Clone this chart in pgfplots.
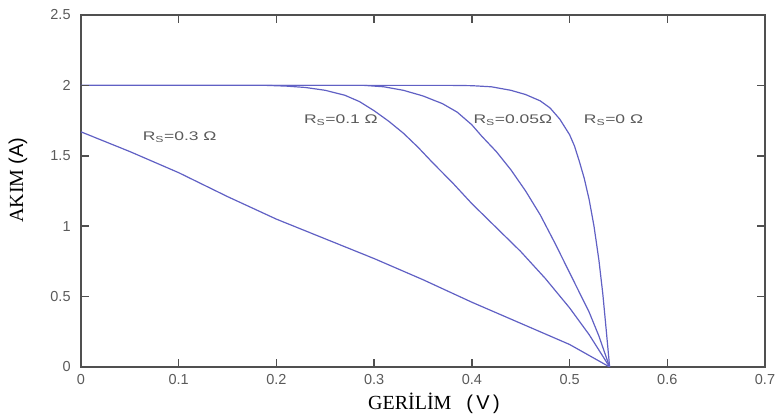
\documentclass[border=0pt]{standalone}
\usepackage{pgfplots}
\pgfplotsset{compat=1.18}
\usepackage{fontspec}
\setmainfont{Liberation Serif}
\setsansfont{Liberation Sans}
\newfontfamily\annfont[FakeStretch=1.4]{Liberation Sans}
\definecolor{curve}{RGB}{96,96,196}
\definecolor{axgray}{RGB}{80,80,80}
\definecolor{txtgray}{RGB}{90,90,90}
\begin{document}
\begin{tikzpicture}
\begin{axis}[
  name=ax,
  scale only axis,
  width=684pt, height=352pt,
  xmin=0, xmax=0.7, ymin=0, ymax=2.5,
  xtick={0,0.1,0.2,0.3,0.4,0.5,0.6,0.7},
  ytick={0,0.5,1,1.5,2,2.5},
  xticklabels={0,0.1,0.2,0.3,0.4,0.5,0.6,0.7},
  yticklabels={0,0.5,1,1.5,2,2.5},
  xtick align=inside, ytick align=inside,
  major tick length=8pt,
  every axis/.append style={line width=2.2pt},
  every tick/.append style={line width=1.5pt, draw=axgray},
  axis line style={draw=axgray},
  ticklabel style={font=\fontsize{14.5}{17}\selectfont\sffamily, text=txtgray},
  xticklabel style={yshift=-3pt},
  yticklabel style={xshift=-6pt},
  /pgf/number format/assume math mode=true,
  xlabel={GERİLİM \ \ \sffamily(\,V\,)},
  ylabel={AKIM \sffamily(A)},
  label style={font=\fontsize{20}{24}\selectfont},
  xlabel style={at={(axis description cs:0.516,-0.122)}, anchor=base},
  ylabel style={at={(axis description cs:-0.092,0.531)}, anchor=center},
]
% Rs = 0 Ohm
\addplot[curve, line width=1.2pt, line join=round] coordinates {
(0,2) (0.38,2) (0.40,1.998) (0.42,1.99) (0.44,1.965) (0.455,1.935) (0.47,1.89)
(0.48,1.84) (0.49,1.76) (0.5,1.65) (0.505,1.57) (0.51,1.46) (0.515,1.34)
(0.52,1.19) (0.525,1.0) (0.53,0.76) (0.534,0.52) (0.537,0.3) (0.539,0.15) (0.541,0)};
% Rs = 0.05 Ohm
\addplot[curve, line width=1.2pt, line join=round] coordinates {
(0,2) (0.29,2) (0.31,1.99) (0.33,1.965) (0.35,1.925) (0.37,1.87) (0.385,1.81)
(0.4,1.72) (0.41,1.64) (0.425,1.53) (0.44,1.40) (0.455,1.25) (0.47,1.08)
(0.485,0.88) (0.5,0.67) (0.51,0.53) (0.52,0.39) (0.53,0.22) (0.541,0)};
% Rs = 0.1 Ohm
\addplot[curve, line width=1.2pt, line join=round] coordinates {
(0,2) (0.19,2) (0.21,1.995) (0.23,1.985) (0.25,1.965) (0.27,1.93) (0.285,1.885)
(0.3,1.82) (0.315,1.745) (0.33,1.66) (0.345,1.56) (0.36,1.45) (0.38,1.31) (0.4,1.16)
(0.425,0.99) (0.45,0.82) (0.475,0.63) (0.5,0.42) (0.52,0.23) (0.541,0)};
% Rs = 0.3 Ohm
\addplot[curve, line width=1.2pt, line join=round] coordinates {
(0,1.67) (0.05,1.53) (0.1,1.38) (0.15,1.21) (0.2,1.05) (0.25,0.91) (0.3,0.77)
(0.35,0.62) (0.4,0.46) (0.45,0.31) (0.5,0.16) (0.541,0)};
\pgfplotsinvokeforeach{0.1,0.2,0.3,0.4,0.5,0.6}{
  \draw[axgray, line width=1.5pt] (axis cs:#1,0) -- ++(0,8pt);
  \draw[axgray, line width=1.5pt] (axis cs:#1,2.5) -- ++(0,-8pt);
}
\pgfplotsinvokeforeach{0.5,1,1.5,2}{
  \draw[axgray, line width=1.5pt] (axis cs:0,#1) -- ++(8pt,0);
  \draw[axgray, line width=1.5pt] (axis cs:0.7,#1) -- ++(-8pt,0);
}
\node[text=txtgray, font=\fontsize{12.5}{14}\annfont] at (axis cs:0.101,1.63) {R\textsubscript{S}=0.3 Ω};
\node[text=txtgray, font=\fontsize{12.5}{14}\annfont] at (axis cs:0.266,1.75) {R\textsubscript{S}=0.1 Ω};
\node[text=txtgray, font=\fontsize{12.5}{14}\annfont] at (axis cs:0.442,1.75) {R\textsubscript{S}=0.05Ω};
\node[text=txtgray, font=\fontsize{12.5}{14}\annfont] at (axis cs:0.545,1.75) {R\textsubscript{S}=0 Ω};
\end{axis}
\path ([shift={(-81pt,-47pt)}]ax.south west) rectangle ([shift={(18pt,15pt)}]ax.north east);
\end{tikzpicture}
\end{document}
